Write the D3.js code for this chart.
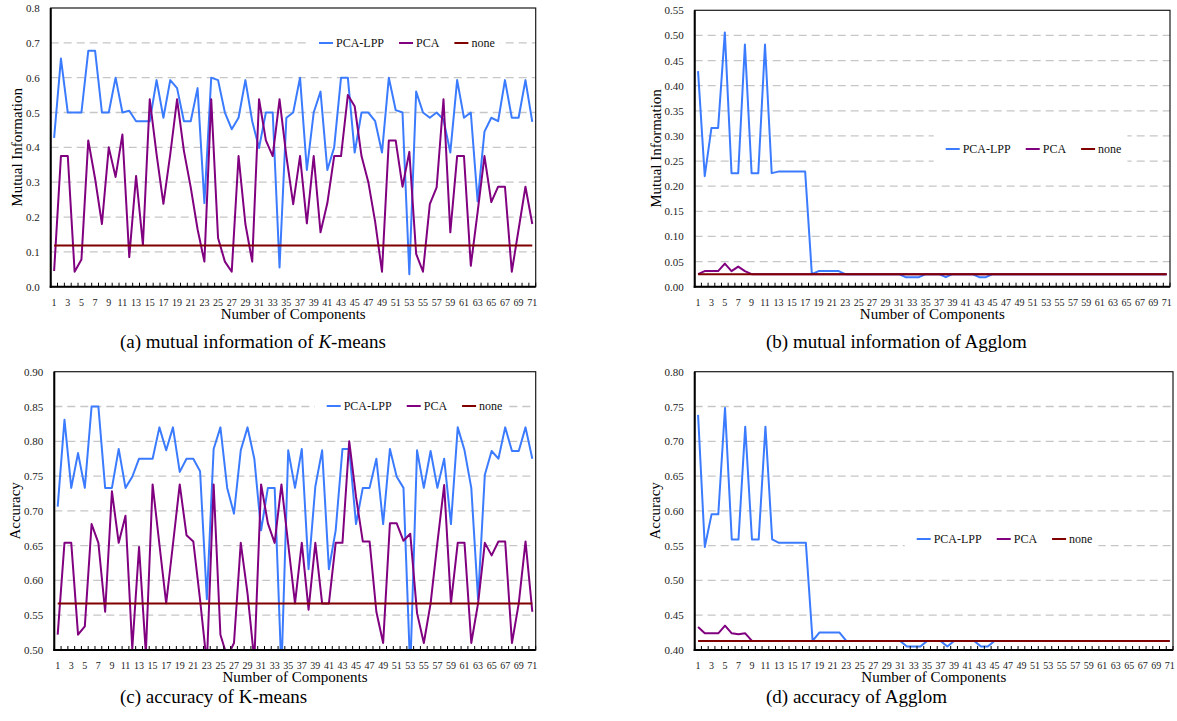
<!DOCTYPE html>
<html><head><meta charset="utf-8">
<script src="https://cdn.jsdelivr.net/npm/d3@7"></script>
<style>
body{margin:0;background:#fff}
svg{display:block}
text{font-family:"Liberation Serif","Times New Roman",serif}
</style>
</head><body>
<svg id="chart" width="1177" height="721"></svg>
<script>
// ---------- data ----------
const components = [1,2,3,4,5,6,7,8,9,10,11,12,13,14,15,16,17,18,19,20,21,22,23,24,25,26,27,28,29,30,
  31,32,33,34,35,36,37,38,39,40,41,42,43,44,45,46,47,48,49,50,51,52,53,54,55,56,57,58,59,60,
  61,62,63,64,65,66,67,68,69,70,71];
const xTickLabels = [1,3,5,7,9,11,13,15,17,19,21,23,25,27,29,31,33,35,37,39,41,43,45,47,49,51,53,55,57,59,61,63,65,67,69,71];
const seriesNames = ["PCA-LPP","PCA","none"];

// (a) mutual information of K-means
const kmMiTicks = [0.0,0.1,0.2,0.3,0.4,0.5,0.6,0.7,0.8];
const kmMiPcaLpp = [0.427,0.655,0.50,0.50,0.50,0.677,0.677,0.50,0.50,0.60,
  0.50,0.505,0.475,0.475,0.475,0.593,0.485,0.593,0.57,0.475,
  0.475,0.57,0.24,0.60,0.593,0.50,0.452,0.485,0.593,0.475,
  0.398,0.50,0.50,0.055,0.485,0.50,0.60,0.335,0.50,0.56,
  0.335,0.40,0.60,0.60,0.385,0.50,0.50,0.475,0.385,0.60,
  0.507,0.50,0.036,0.56,0.50,0.485,0.50,0.48,0.385,0.593,
  0.485,0.50,0.245,0.445,0.485,0.475,0.593,0.485,0.485,0.593,
  0.473];
const kmMiPca = [0.045,0.375,0.375,0.043,0.078,0.42,0.31,0.18,0.40,0.315,
  0.437,0.085,0.318,0.12,0.538,0.38,0.238,0.38,0.538,0.39,
  0.285,0.165,0.072,0.538,0.14,0.072,0.043,0.375,0.18,0.072,
  0.538,0.42,0.375,0.538,0.375,0.237,0.375,0.182,0.375,0.156,
  0.24,0.375,0.375,0.55,0.518,0.375,0.30,0.186,0.043,0.42,
  0.42,0.287,0.387,0.094,0.043,0.237,0.285,0.538,0.156,0.375,
  0.375,0.06,0.215,0.375,0.243,0.287,0.287,0.043,0.165,0.287,
  0.18];
const kmMiNone = 0.118;

// (b) mutual information of Agglom
const agMiTicks = [0.00,0.05,0.10,0.15,0.20,0.25,0.30,0.35,0.40,0.45,0.50,0.55];
const agMiPcaLpp = [0.429,0.22,0.316,0.316,0.506,0.226,0.226,0.482,0.226,0.226,
  0.482,0.226,0.229,0.229,0.229,0.229,0.229,0.025,0.031,0.031,
  0.031,0.031,0.025,0.025,0.025,0.025,0.025,0.025,0.025,0.025,
  0.025,0.019,0.019,0.019,0.025,0.025,0.025,0.019,0.025,0.025,
  0.025,0.025,0.019,0.019,0.025,0.025,0.025,0.025,0.025,0.025,
  0.025,0.025,0.025,0.025,0.025,0.025,0.025,0.025,0.025,0.025,
  0.025,0.025,0.025,0.025,0.025,0.025,0.025,0.025,0.025,0.025,
  0.025];
const agMiPca = [0.025,0.031,0.031,0.031,0.046,0.031,0.040,0.031,0.025,0.025,
  0.025,0.025,0.025,0.025,0.025,0.025,0.025,0.025,0.025,0.025,
  0.025,0.025,0.025,0.025,0.025,0.025,0.025,0.025,0.025,0.025,
  0.025,0.025,0.025,0.025,0.025,0.025,0.025,0.025,0.025,0.025,
  0.025,0.025,0.025,0.025,0.025,0.025,0.025,0.025,0.025,0.025,
  0.025,0.025,0.025,0.025,0.025,0.025,0.025,0.025,0.025,0.025,
  0.025,0.025,0.025,0.025,0.025,0.025,0.025,0.025,0.025,0.025,
  0.025];
const agMiNone = 0.025;

// (c) accuracy of K-means
const kmAccTicks = [0.50,0.55,0.60,0.65,0.70,0.75,0.80,0.85,0.90];
const kmAccPcaLpp = [0.706,0.831,0.733,0.783,0.733,0.85,0.85,0.733,0.733,0.789,
  0.733,0.749,0.775,0.775,0.775,0.82,0.787,0.82,0.756,0.775,
  0.775,0.757,0.573,0.789,0.82,0.733,0.696,0.787,0.82,0.775,
  0.672,0.733,0.733,0.47,0.787,0.733,0.789,0.616,0.735,0.787,
  0.616,0.672,0.789,0.789,0.681,0.733,0.733,0.775,0.681,0.789,
  0.749,0.733,0.47,0.787,0.733,0.786,0.733,0.775,0.681,0.82,
  0.787,0.733,0.573,0.752,0.786,0.775,0.82,0.786,0.786,0.82,
  0.775];
const kmAccPca = [0.522,0.654,0.654,0.522,0.534,0.681,0.654,0.555,0.728,0.654,
  0.693,0.502,0.648,0.495,0.738,0.652,0.567,0.652,0.738,0.665,
  0.656,0.572,0.48,0.738,0.522,0.49,0.51,0.654,0.581,0.485,
  0.738,0.682,0.654,0.738,0.652,0.567,0.654,0.558,0.654,0.567,
  0.567,0.654,0.654,0.80,0.72,0.656,0.656,0.555,0.51,0.682,
  0.682,0.657,0.667,0.553,0.51,0.567,0.654,0.737,0.567,0.654,
  0.654,0.51,0.567,0.654,0.636,0.656,0.656,0.51,0.567,0.656,
  0.555];
const kmAccNone = 0.567;

// (d) accuracy of Agglom
const agAccTicks = [0.40,0.45,0.50,0.55,0.60,0.65,0.70,0.75,0.80];
const agAccPcaLpp = [0.738,0.548,0.595,0.595,0.748,0.559,0.559,0.721,0.559,0.559,
  0.721,0.559,0.554,0.554,0.554,0.554,0.554,0.413,0.425,0.425,
  0.425,0.425,0.413,0.413,0.413,0.413,0.413,0.413,0.413,0.413,
  0.413,0.405,0.405,0.405,0.413,0.413,0.413,0.405,0.413,0.413,
  0.413,0.413,0.405,0.405,0.413,0.413,0.413,0.413,0.413,0.413,
  0.413,0.413,0.413,0.413,0.413,0.413,0.413,0.413,0.413,0.413,
  0.413,0.413,0.413,0.413,0.413,0.413,0.413,0.413,0.413,0.413,
  0.413];
const agAccPca = [0.433,0.424,0.424,0.424,0.435,0.424,0.4225,0.424,0.413,0.413,
  0.413,0.413,0.413,0.413,0.413,0.413,0.413,0.413,0.413,0.413,
  0.413,0.413,0.413,0.413,0.413,0.413,0.413,0.413,0.413,0.413,
  0.413,0.413,0.413,0.413,0.413,0.413,0.413,0.413,0.413,0.413,
  0.413,0.413,0.413,0.413,0.413,0.413,0.413,0.413,0.413,0.413,
  0.413,0.413,0.413,0.413,0.413,0.413,0.413,0.413,0.413,0.413,
  0.413,0.413,0.413,0.413,0.413,0.413,0.413,0.413,0.413,0.413,
  0.413];
const agAccNone = 0.413;

// ---------- layout / style ----------
const COLORS = {lpp:"#3b7bff", pca:"#800080", none:"#800000"};
const panels = [
  {box:[50.7,8,535.7,286.7], ticks:kmMiTicks, fmt:".1f", lpp:kmMiPcaLpp, pca:kmMiPca, none:kmMiNone,
   yTitle:"Mutual Information", yTitleX:21.5, legendX:319, legendY:43,
   cap:["(a) mutual information of ","K","-means"], capX:120, capY:348},
  {box:[694.7,10.3,1170,286.7], ticks:agMiTicks, fmt:".2f", lpp:agMiPcaLpp, pca:agMiPca, none:agMiNone,
   yTitle:"Mutual Information", yTitleX:661, legendX:945.7, legendY:149,
   cap:["(b) mutual information of Agglom"], capX:766, capY:348},
  {box:[54.3,371.7,535.7,650], ticks:kmAccTicks, fmt:".2f", lpp:kmAccPcaLpp, pca:kmAccPca, none:kmAccNone,
   yTitle:"Accuracy", yTitleX:20, legendX:326.7, legendY:406,
   cap:["(c) accuracy of K-means"], capX:120, capY:703},
  {box:[694.7,371.7,1173,650], ticks:agAccTicks, fmt:".2f", lpp:agAccPcaLpp, pca:agAccPca, none:agAccNone,
   yTitle:"Accuracy", yTitleX:660, legendX:916.7, legendY:539,
   cap:["(d) accuracy of Agglom"], capX:766, capY:703}
];

const svg = d3.select("#chart");
const FONT = '"Liberation Serif","Times New Roman",serif';

panels.forEach((p, i) => {
  const [x0, y0, x1, y1] = p.box;
  const x = d3.scaleBand().domain(components).range([x0, x1]).padding(0);
  const cx = d => x(d) + x.bandwidth() / 2;
  const y = d3.scaleLinear().domain([p.ticks[0], p.ticks[p.ticks.length - 1]]).range([y1, y0]);
  const g = svg.append("g");

  // gridlines (inner ticks)
  g.selectAll("line.grid").data(p.ticks.slice(1, -1)).join("line")
    .attr("x1", x0).attr("x2", x1)
    .attr("y1", d => y(d)).attr("y2", d => y(d))
    .attr("stroke", "#c6c6c6").attr("stroke-width", 1.3).attr("stroke-dasharray", "8,5");

  // clip
  svg.append("clipPath").attr("id", "clip" + i).append("rect")
    .attr("x", x0).attr("y", y0).attr("width", x1 - x0).attr("height", y1 - y0);

  // legend (drawn before lines? no - lines first, legend box on top)
  const line = d3.line().x((d, j) => cx(components[j])).y(d => y(d));
  const lg = g.append("g").attr("clip-path", `url(#clip${i})`);
  lg.append("path").datum(p.lpp).attr("d", line).attr("fill", "none")
    .attr("stroke", COLORS.lpp).attr("stroke-width", 2).attr("stroke-linejoin", "round");
  lg.append("path").datum(p.pca).attr("d", line).attr("fill", "none")
    .attr("stroke", COLORS.pca).attr("stroke-width", 2).attr("stroke-linejoin", "round");
  lg.append("line")
    .attr("x1", cx(components[0])).attr("x2", cx(components[components.length - 1]))
    .attr("y1", y(p.none)).attr("y2", y(p.none))
    .attr("stroke", COLORS.none).attr("stroke-width", 2);

  // border
  g.append("rect").attr("x", x0).attr("y", y0).attr("width", x1 - x0).attr("height", y1 - y0)
    .attr("fill", "none").attr("stroke", "#1a1a1a").attr("stroke-width", 1.2);
  g.append("line").attr("x1", x0).attr("x2", x0).attr("y1", y0).attr("y2", y1 + 1)
    .attr("stroke", "#000").attr("stroke-width", 2);
  g.append("line").attr("x1", x0 - 1).attr("x2", x1).attr("y1", y1).attr("y2", y1)
    .attr("stroke", "#000").attr("stroke-width", 2);

  // inward category tick marks
  const bounds = components.map(d => x(d)).concat([x1]);
  g.selectAll("line.xt").data(bounds).join("line")
    .attr("x1", d => d).attr("x2", d => d).attr("y1", y1).attr("y2", y1 - 4)
    .attr("stroke", "#000").attr("stroke-width", 1);

  // x axis labels
  const xa = g.append("g").attr("transform", `translate(0,${y1})`)
    .call(d3.axisBottom(x).tickValues(xTickLabels).tickSize(0).tickPadding(12));
  xa.select(".domain").remove();
  xa.attr("font-family", FONT).attr("font-size", 10);
  xa.selectAll("text").attr("fill", "#222");

  // y axis labels
  const ya = g.append("g").attr("transform", `translate(${x0},0)`)
    .call(d3.axisLeft(y).tickValues(p.ticks).tickSize(0).tickPadding(11).tickFormat(d3.format(p.fmt)));
  ya.select(".domain").remove();
  ya.attr("font-family", FONT).attr("font-size", 11);
  ya.selectAll("text").attr("fill", "#222");

  // y title
  g.append("text").attr("transform", `translate(${p.yTitleX},${(y0 + y1) / 2}) rotate(-90)`)
    .attr("text-anchor", "middle").attr("font-size", 15).attr("fill", "#000").text(p.yTitle);
  // x title
  g.append("text").attr("x", (x0 + x1) / 2).attr("y", y1 + 32)
    .attr("text-anchor", "middle").attr("font-size", 15).attr("fill", "#000").text("Number of Components");

  // legend
  const leg = g.append("g");
  const bg = leg.append("rect").attr("fill", "#fff");
  let lx = p.legendX;
  const cols = [COLORS.lpp, COLORS.pca, COLORS.none];
  seriesNames.forEach((name, k) => {
    leg.append("line").attr("x1", lx).attr("x2", lx + 14).attr("y1", p.legendY).attr("y2", p.legendY)
      .attr("stroke", cols[k]).attr("stroke-width", 2);
    const t = leg.append("text").attr("x", lx + 17).attr("y", p.legendY + 4)
      .attr("font-size", 12).attr("fill", "#111").text(name);
    lx = lx + 17 + t.node().getComputedTextLength() + 15;
  });
  bg.attr("x", p.legendX - 12).attr("y", p.legendY - 14)
    .attr("width", (lx - 15 + 6) - (p.legendX - 12)).attr("height", 28);

  // caption
  const cap = svg.append("text").attr("x", p.capX).attr("y", p.capY)
    .attr("font-size", 19).attr("fill", "#000");
  p.cap.forEach((s, k) => {
    const ts = cap.append("tspan").text(s);
    if (p.cap.length > 1 && k === 1) ts.attr("font-style", "italic");
  });
});
</script>
</body></html>
